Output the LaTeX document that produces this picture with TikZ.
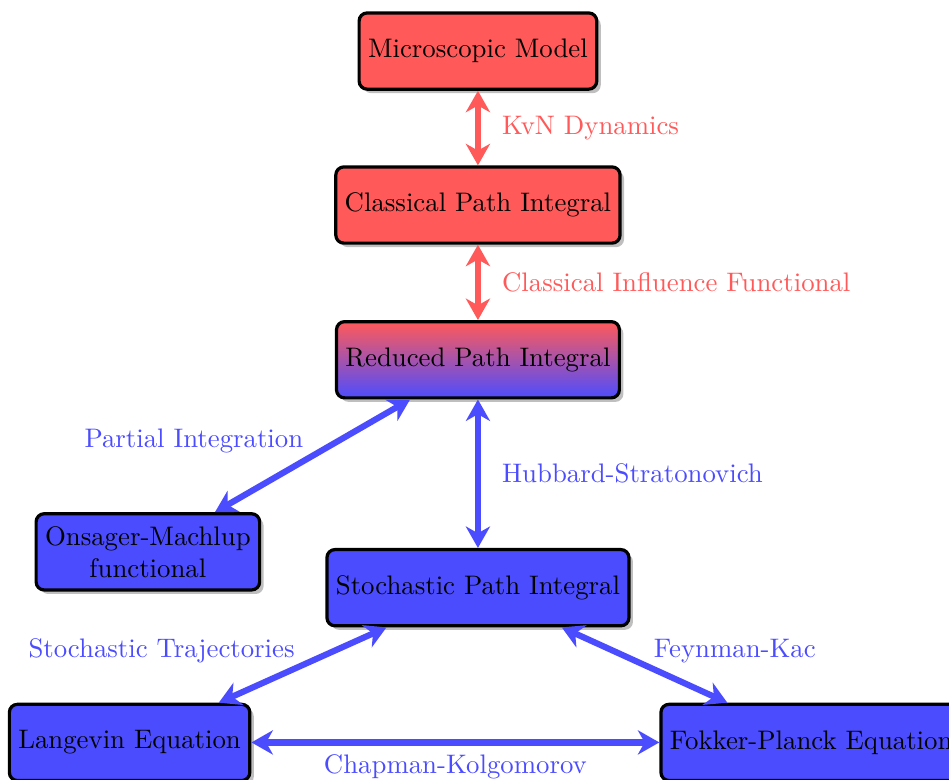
\documentclass[tikz,border=0pt]{standalone}
\usepackage{tikz}
\usetikzlibrary{arrows.meta,shadows,positioning}

\begin{document}
\begin{tikzpicture}[
  box/.style={draw, very thick, rounded corners=3pt, minimum height=1cm, align=center,
    drop shadow={shadow xshift=1.5pt, shadow yshift=-1.5pt, fill=black!50}},
  redbox/.style={box, fill=red!65},
  bluebox/.style={box, fill=blue!70},
  link/.style={{Stealth[length=8pt,width=9pt,inset=2.5pt]}-{Stealth[length=8pt,width=9pt,inset=2.5pt]},
    line width=2.3pt},
  redlink/.style={link, red!65},
  bluelink/.style={link, blue!70}]

  \useasboundingbox (0,0) rectangle (12.45,10.23);

  % classical part
  \node[redbox] (micro) at (6.27,9.56) {Microscopic Model};
  \node[redbox] (classical) at (6.27,7.54) {Classical Path Integral};
  \node[box, top color=red!65, bottom color=blue!70] (reduced) at (6.27,5.51) {Reduced Path Integral};

  % stochastic part
  \node[bluebox] (onsager) at (1.94,2.99) {Onsager-Machlup\\ functional};
  \node[bluebox] (stoch) at (6.27,2.52) {Stochastic Path Integral};
  \node[bluebox] (langevin) at (1.70,0.49) {Langevin Equation};
  \node[bluebox, anchor=west] (fokker) at (8.65,0.49) {Fokker-Planck Equation};

  \draw[redlink] (micro.south) -- (classical.north)
    node[midway, right=1.6mm] {KvN Dynamics};
  \draw[redlink] (classical.south) -- (reduced.north)
    node[midway, right=1.6mm] {Classical Influence Functional};

  \draw[bluelink] ([xshift=-0.89cm]reduced.south) -- ([xshift=0.88cm]onsager.north)
    node[midway, above left, yshift=-1.2mm, xshift=1pt] {Partial Integration};
  \draw[bluelink] (reduced.south) -- (stoch.north)
    node[midway, right=1.6mm] {Hubbard-Stratonovich};
  \draw[bluelink] ([xshift=-1.2cm]stoch.south) -- ([xshift=1.17cm]langevin.north)
    node[midway, above left, yshift=-1.3mm, xshift=1.5pt] {Stochastic Trajectories};
  \draw[bluelink] ([xshift=1.1cm]stoch.south) -- ([xshift=-1.1cm]fokker.north)
    node[midway, above right, yshift=-1.3mm, xshift=-1pt] {Feynman-Kac};
  \draw[bluelink] (langevin.east) -- (fokker.west)
    node[midway, below] {Chapman-Kolgomorov};

\end{tikzpicture}
\end{document}
